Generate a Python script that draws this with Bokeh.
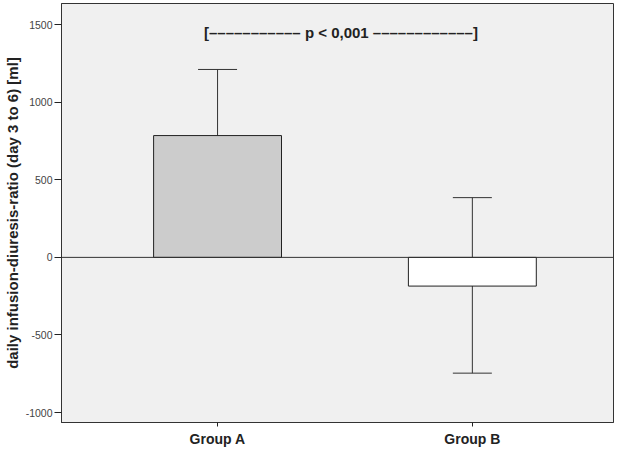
from bokeh.plotting import figure
from bokeh.models import (ColumnDataSource, FixedTicker, Span, Whisker, TeeHead,
                          Range1d, Label)
from bokeh.embed import file_html
from bokeh.resources import INLINE

# ---- data ----
categories = ["Group A", "Group B"]
means = [785, -185]
ci_upper = [1211, 385]
ci_lower = [359, -746]
bar_colors = ["#CCCCCC", "#FFFFFF"]
y_ticks = [-1000, -500, 0, 500, 1000, 1500]
p_text = "[" + "\u2013" * 11 + " p < 0,001 " + "\u2013" * 12 + "]"
y_label = "daily infusion-diuresis-ratio (day 3 to 6) [ml]"

xs = list(range(1, len(categories) + 1))
src = ColumnDataSource(dict(x=xs, top=means, upper=ci_upper, lower=ci_lower,
                            color=bar_colors))

FONT = "Liberation Sans"

p = figure(width=615, height=449, output_backend="svg", toolbar_location=None,
           x_range=Range1d(0.3875, 2.554), y_range=Range1d(-1064, 1636),
           min_border_left=0, min_border_right=2, min_border_top=3,
           min_border_bottom=0)

p.background_fill_color = "#F0F0F0"
p.border_fill_color = "#FFFFFF"
p.outline_line_color = "#333333"
p.outline_line_width = 1
p.xgrid.visible = False
p.ygrid.visible = False

p.vbar(x="x", top="top", bottom=0, width=0.502, source=src, fill_color="color",
       line_color="#222222", line_width=1)

p.add_layout(Span(location=0, dimension="width", line_color="#333333",
                  line_width=1))

w = Whisker(source=src, base="x", upper="upper", lower="lower",
            line_color="#333333", line_width=1,
            upper_head=TeeHead(size=39, line_color="#333333", line_width=1),
            lower_head=TeeHead(size=39, line_color="#333333", line_width=1))
p.add_layout(w)

mid_x = sum(xs) / len(xs)
p.add_layout(Label(x=mid_x, y=1451, text=p_text, text_font=FONT,
                   text_font_size="15px", text_font_style="bold",
                   text_color="#222222", text_align="center",
                   text_baseline="middle", x_offset=-4))

# y axis
p.yaxis.ticker = FixedTicker(ticks=y_ticks)
p.yaxis.major_label_overrides = {t: str(t) for t in y_ticks}
p.yaxis.minor_tick_line_color = None
p.yaxis.major_tick_in = 0
p.yaxis.major_tick_out = 7
p.yaxis.major_tick_line_color = "#222222"
p.yaxis.axis_line_color = "#333333"
p.yaxis.major_label_text_font = FONT
p.yaxis.major_label_text_font_size = "10.5px"
p.yaxis.major_label_text_color = "#444444"
p.yaxis.major_label_standoff = 2
p.yaxis.axis_label = y_label
p.yaxis.axis_label_text_font = FONT
p.yaxis.axis_label_text_font_size = "15px"
p.yaxis.axis_label_text_font_style = "bold"
p.yaxis.axis_label_text_color = "#222222"
p.yaxis.axis_label_standoff = 2

# x axis
p.xaxis.ticker = FixedTicker(ticks=xs)
p.xaxis.major_label_overrides = {x: c for x, c in zip(xs, categories)}
p.xaxis.minor_tick_line_color = None
p.xaxis.major_tick_in = 0
p.xaxis.major_tick_out = 4
p.xaxis.major_tick_line_color = "#222222"
p.xaxis.axis_line_color = "#333333"
p.xaxis.major_label_text_font = FONT
p.xaxis.major_label_text_font_size = "14px"
p.xaxis.major_label_text_font_style = "bold"
p.xaxis.major_label_text_color = "#222222"
p.xaxis.major_label_standoff = 4

open("out.html", "w").write(file_html(p, INLINE))
